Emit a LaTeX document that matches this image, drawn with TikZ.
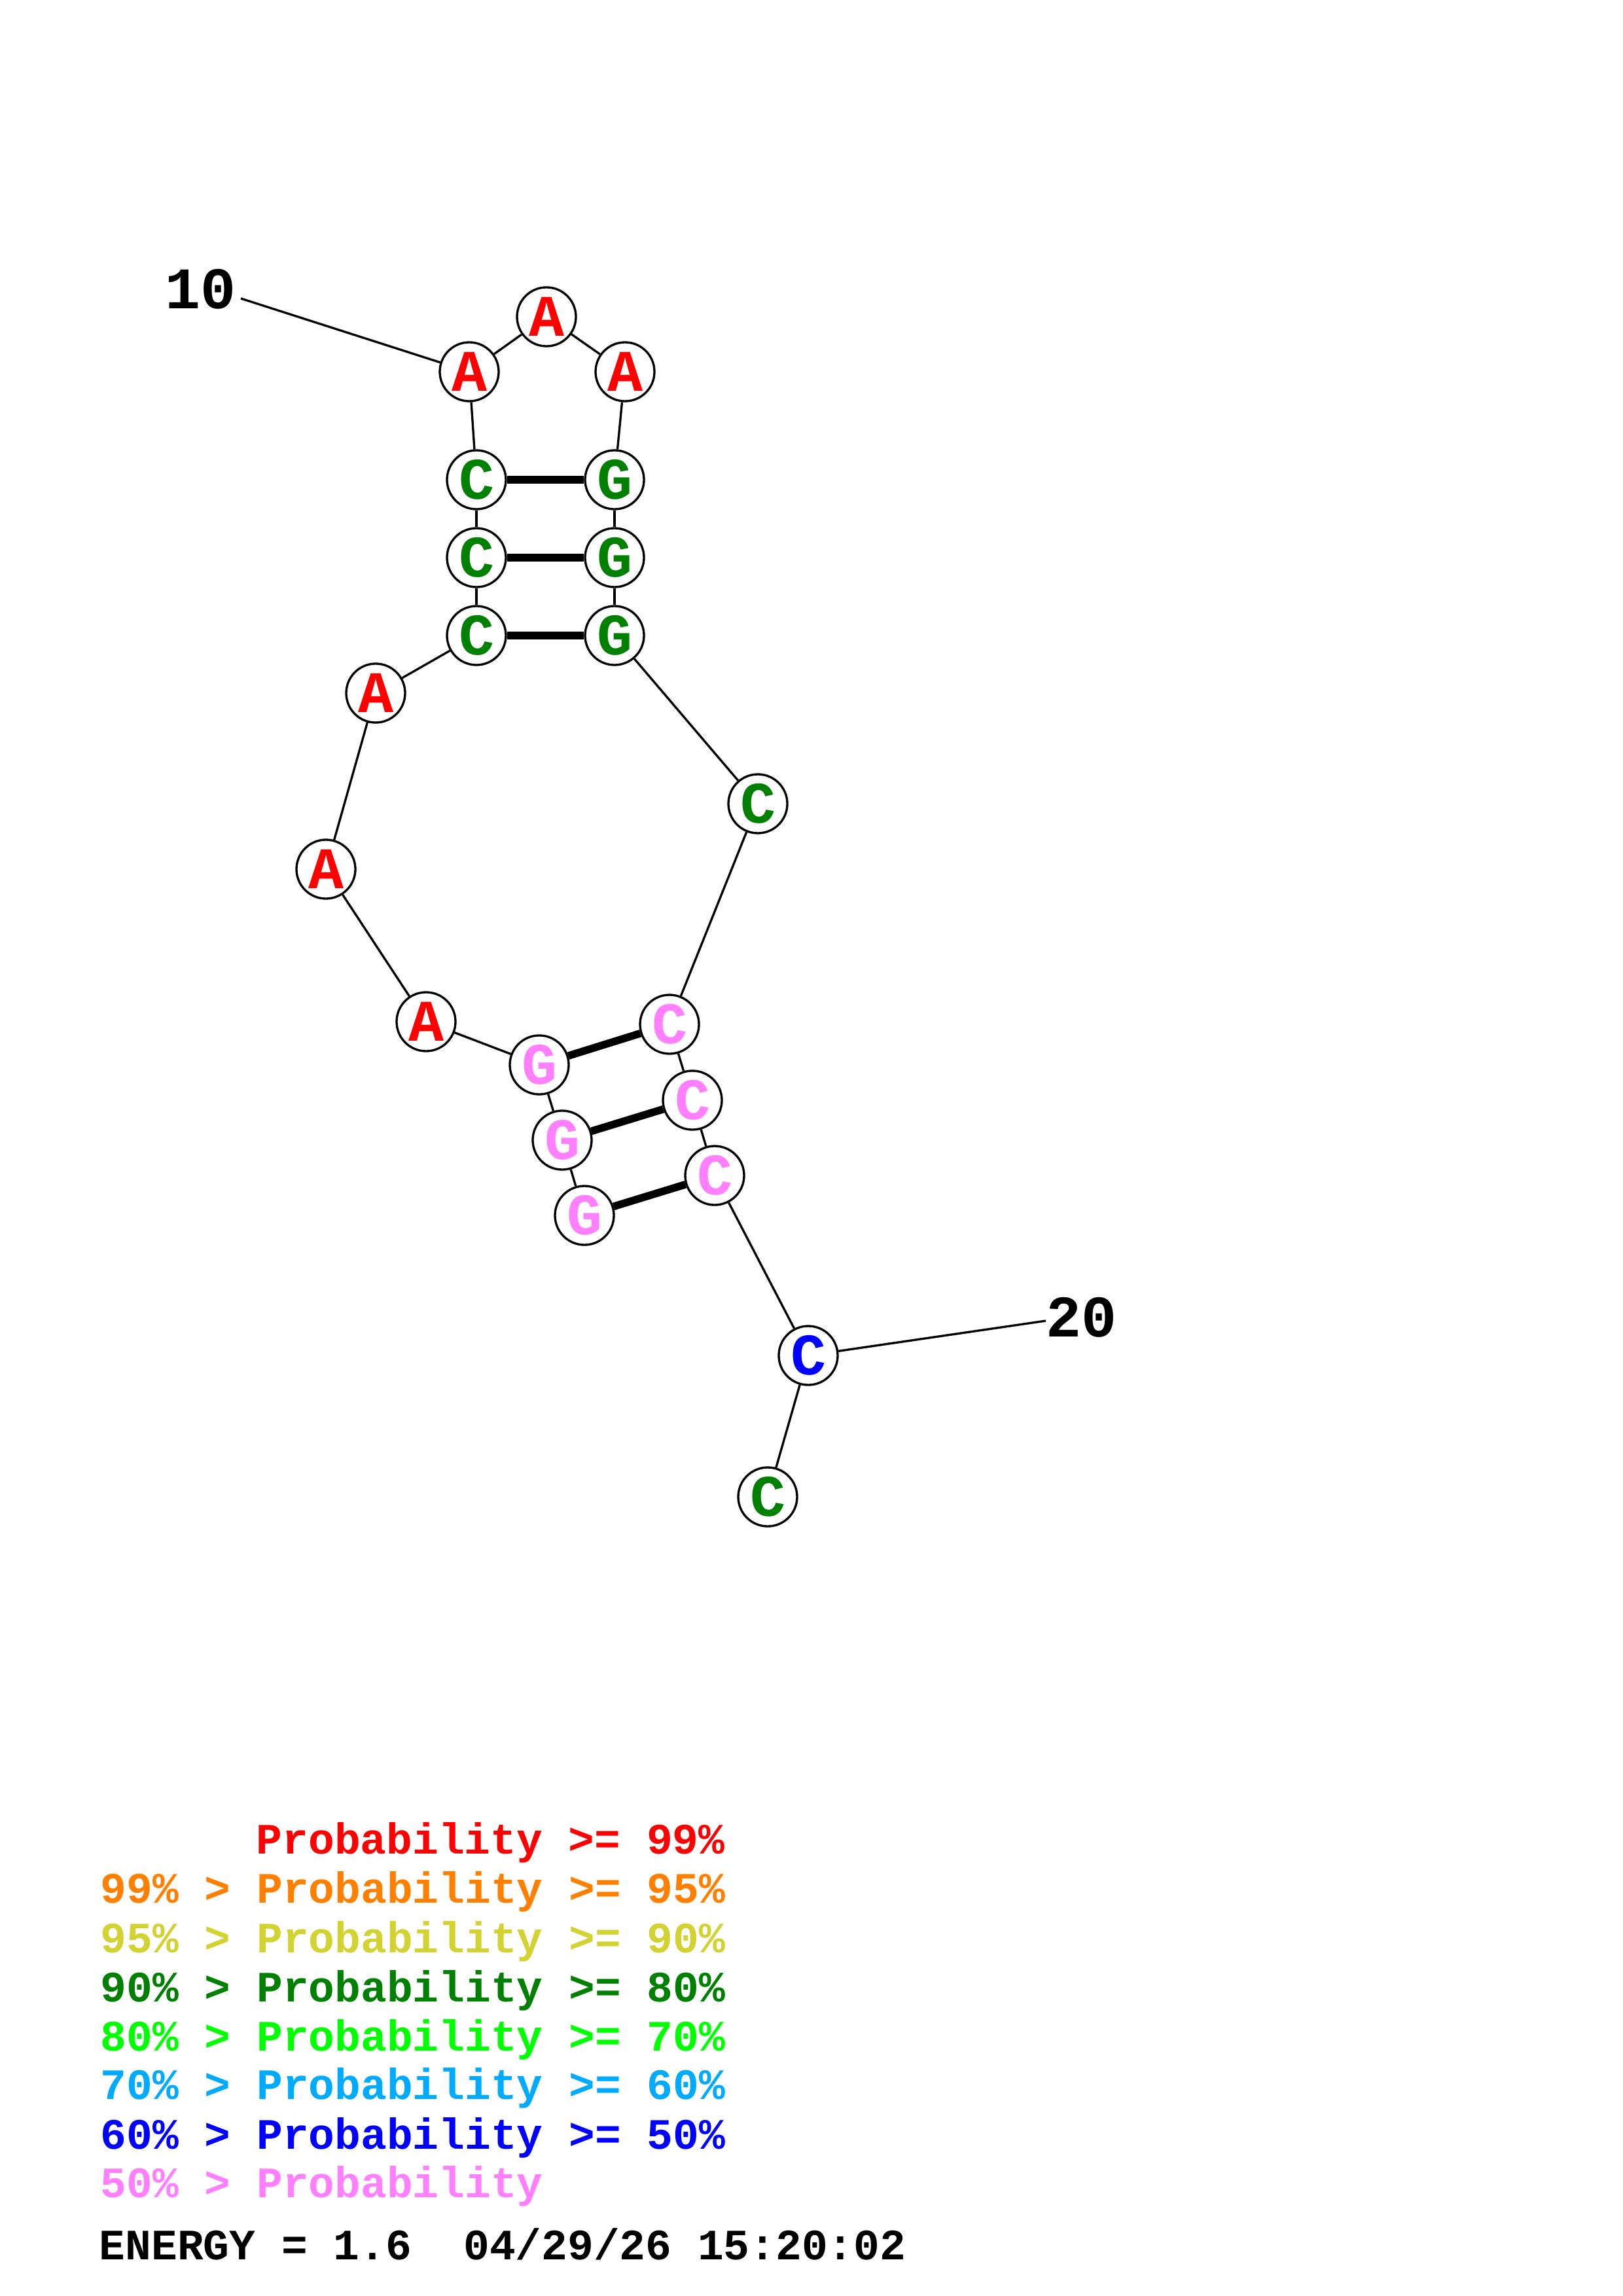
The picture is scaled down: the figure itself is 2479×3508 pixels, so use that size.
\documentclass[tikz,border=0pt]{standalone}
\usepackage{fontspec}
\newfontfamily\cour{Liberation Mono}
\definecolor{pRed}{RGB}{255,0,0}
\definecolor{pOrange}{RGB}{255,128,0}
\definecolor{pYellow}{RGB}{210,210,50}
\definecolor{pDkGreen}{RGB}{0,128,0}
\definecolor{pGreen}{RGB}{0,255,0}
\definecolor{pSky}{RGB}{0,170,255}
\definecolor{pBlue}{RGB}{0,0,255}
\definecolor{pPink}{RGB}{255,128,255}
\tikzset{
  nt/.style={circle,draw=black,fill=white,line width=0.8pt,minimum size=21.6pt,inner sep=0pt,
    font=\cour\bfseries\fontsize{21.6}{24}\selectfont},
  bb/.style={line width=0.8pt},
  bp/.style={line width=2.8pt},
  poslab/.style={font=\cour\bfseries\fontsize{21.6}{24}\selectfont,inner sep=0pt},
  leg/.style={anchor=base west,inner sep=0pt,font=\cour\bfseries\fontsize{15.9}{18}\selectfont}
}
\begin{document}
\begin{tikzpicture}[x=0.24pt,y=-0.24pt]
\useasboundingbox (0,0) rectangle (2479,3508);
% backbone coordinates for labels
\coordinate (c10) at (368,456);
\coordinate (c20) at (1598,2018);
% nucleotides
\node[nt,text=pPink] (n1) at (893,1857) {G};
\node[nt,text=pPink] (n2) at (859,1742) {G};
\node[nt,text=pPink] (n3) at (824,1627) {G};
\node[nt,text=pRed] (n4) at (651,1561) {A};
\node[nt,text=pRed] (n5) at (498,1328) {A};
\node[nt,text=pRed] (n6) at (574,1059) {A};
\node[nt,text=pDkGreen] (n7) at (728,971) {C};
\node[nt,text=pDkGreen] (n8) at (728,852) {C};
\node[nt,text=pDkGreen] (n9) at (728,733) {C};
\node[nt,text=pRed] (n10) at (717,568) {A};
\node[nt,text=pRed] (n11) at (835,484) {A};
\node[nt,text=pRed] (n12) at (955,568) {A};
\node[nt,text=pDkGreen] (n13) at (939,733) {G};
\node[nt,text=pDkGreen] (n14) at (939,852) {G};
\node[nt,text=pDkGreen] (n15) at (939,971) {G};
\node[nt,text=pDkGreen] (n16) at (1158,1228) {C};
\node[nt,text=pPink] (n17) at (1023,1565) {C};
\node[nt,text=pPink] (n18) at (1058,1681) {C};
\node[nt,text=pPink] (n19) at (1092,1796) {C};
\node[nt,text=pBlue] (n20) at (1235,2071) {C};
\node[nt,text=pDkGreen] (n21) at (1173,2287) {C};
% position labels
\node[poslab] (l10) at (307,442) {10};
\node[poslab] (l20) at (1652,2013) {20};
% backbone
\begin{scope}[on background layer/.try]
\end{scope}
\draw[bb] (n1) -- (n2);
\draw[bb] (n2) -- (n3);
\draw[bb] (n3) -- (n4);
\draw[bb] (n4) -- (n5);
\draw[bb] (n5) -- (n6);
\draw[bb] (n6) -- (n7);
\draw[bb] (n7) -- (n8);
\draw[bb] (n8) -- (n9);
\draw[bb] (n9) -- (n10);
\draw[bb] (n10) -- (n11);
\draw[bb] (n11) -- (n12);
\draw[bb] (n12) -- (n13);
\draw[bb] (n13) -- (n14);
\draw[bb] (n14) -- (n15);
\draw[bb] (n15) -- (n16);
\draw[bb] (n16) -- (n17);
\draw[bb] (n17) -- (n18);
\draw[bb] (n18) -- (n19);
\draw[bb] (n19) -- (n20);
\draw[bb] (n20) -- (n21);
\draw[bb] (c10) -- (n10);
\draw[bb] (c20) -- (n20);
% base pairs
\draw[bp] (n9) -- (n13);
\draw[bp] (n8) -- (n14);
\draw[bp] (n7) -- (n15);
\draw[bp] (n3) -- (n17);
\draw[bp] (n2) -- (n18);
\draw[bp] (n1) -- (n19);
% legend
\node[leg,text=pRed] (g1) at (391,2832) {Probability >= 99\%};
\node[leg,text=pOrange] (g2) at (153,2907) {99\% > Probability >= 95\%};
\node[leg,text=pYellow] (g3) at (153,2983) {95\% > Probability >= 90\%};
\node[leg,text=pDkGreen] (g4) at (153,3058) {90\% > Probability >= 80\%};
\node[leg,text=pGreen] (g5) at (153,3133) {80\% > Probability >= 70\%};
\node[leg,text=pSky] (g6) at (153,3207) {70\% > Probability >= 60\%};
\node[leg,text=pBlue] (g7) at (153,3283) {60\% > Probability >= 50\%};
\node[leg,text=pPink] (g8) at (153,3357) {50\% > Probability};
\node[leg,text=black] (en) at (151,3452) {ENERGY = 1.6\ \ 04/29/26 15:20:02};
\end{tikzpicture}
\end{document}
